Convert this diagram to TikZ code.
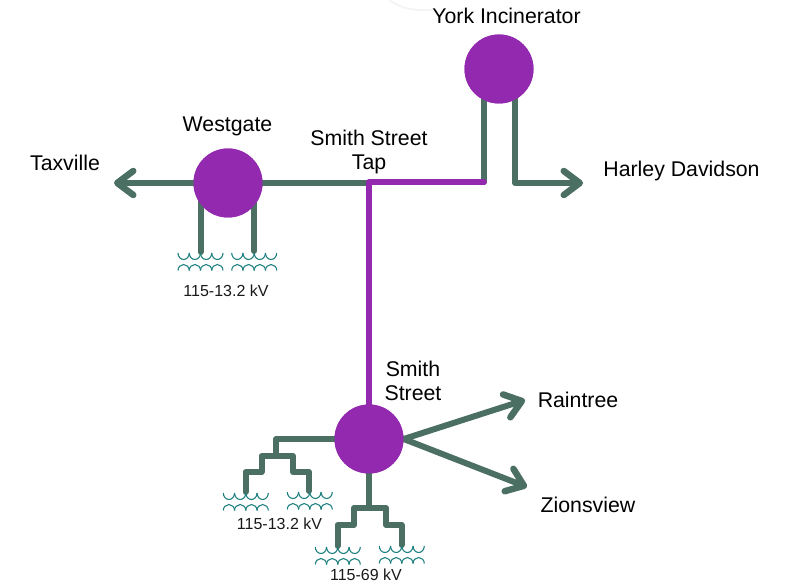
\documentclass[tikz,border=0pt]{standalone}
\usepackage{fontspec}
\setmainfont{Liberation Sans}
\usetikzlibrary{arrows.meta}
\definecolor{linegreen}{HTML}{4B6F62}
\definecolor{subpurple}{HTML}{9229AE}
\definecolor{coilteal}{HTML}{1F8080}
\definecolor{faintgrey}{HTML}{F4F4F4}
\tikzset{
  x=1pt,y=-1pt,
  sub/.style={circle,fill=subpurple,draw=none,minimum size=69pt,inner sep=0pt},
  feeder/.style={draw=linegreen,line width=6pt,line join=round,line cap=round},
  tapline/.style={draw=subpurple,line width=5.5pt,line join=round,line cap=round},
  outarrow/.style={feeder,-{Straight Barb[length=16pt,width=24pt,line width=6.5pt,round]}},
  biglabel/.style={font=\fontsize{21.3pt}{24.5pt}\selectfont,align=center,text=black,inner sep=0pt},
  smalllabel/.style={font=\fontsize{16pt}{19pt}\selectfont,text=black!90,inner sep=0pt},
  coil/.style={draw=coilteal,line width=1.1pt},
  pics/xfmr/.style={code={
    \foreach \k in {0,1,2,3}{
      \draw[coil] (\k*11.25,0) arc[start angle=180,end angle=360,x radius=5.625,y radius=-6.5];
      \draw[coil] (\k*11.25,17.5) arc[start angle=180,end angle=0,x radius=5.625,y radius=-6];
    }
  }}
}
\begin{document}
\begin{tikzpicture}
\useasboundingbox (0,0) rectangle (785,585);
\draw[faintgrey,line width=2pt,line cap=round] (390,0) .. controls (398,8) and (415,11) .. (432,10);
% nodes
\node[sub] (york) at (499,69) {};
\node[sub] (west) at (228,183) {};
\node[sub] (smith) at (369,439) {};
\coordinate (tap) at (369,182);
\coordinate (tapw) at (369,183);
\coordinate (yorkin) at (484,182);
\coordinate (taxville) at (114,183);
\coordinate (harley) at (583,183);
\coordinate (rain) at (525,400);
\coordinate (zion) at (527,487);
% connectors
\draw[outarrow] (west.center) -- (taxville);
\draw[feeder] (west.center) -- (tapw);
\draw[feeder] (yorkin) -- (484,80);
\draw[outarrow] (515,80) -- (515,183) -- (harley);
\draw[tapline] (smith.center) -- (tap) -- (yorkin);
\draw[outarrow] (smith.east) -- (rain);
\draw[outarrow] (smith.east) -- (zion);
\draw[feeder] (200.5,190) -- (200.5,252);
\draw[feeder] (254,190) -- (254,251);
\draw[feeder] (smith.center) -- (276,439) -- (276,456);
\draw[feeder] (245.5,492) -- (245.5,472) -- (261.5,472) -- (261.5,456) -- (293,456) -- (293,472) -- (309,472) -- (309,491);
\draw[feeder] (smith.center) -- (369,508);
\draw[feeder] (337.5,546) -- (337.5,525) -- (354,525) -- (354,508) -- (386,508) -- (386,525) -- (401.5,525) -- (401.5,545);
% circles over connectors
\fill[subpurple] (york) circle[radius=34.5];
\fill[subpurple] (west) circle[radius=34.5];
\fill[subpurple] (smith) circle[radius=34.5];
% transformers
\pic at (178,253) {xfmr};
\pic at (231.7,253) {xfmr};
\pic at (223.3,493) {xfmr};
\pic at (287.3,492) {xfmr};
\pic at (315.3,547) {xfmr};
\pic at (379.3,546) {xfmr};
% labels
\node[biglabel] (l1) at (506.5,16) {York Incinerator};
\node[biglabel] (l2) at (227.5,126) {Westgate};
\node[biglabel] (l3) at (65,163) {Taxville};
\node[biglabel] (l4) at (369,152) {Smith Street\\Tap};
\node[biglabel] (l5) at (681.5,171) {Harley Davidson};
\node[biglabel] (l6) at (413,381) {Smith\\Street};
\node[biglabel] (l7) at (578,400) {Raintree};
\node[biglabel] (l8) at (588,505) {Zionsview};
\node[smalllabel] (s1) at (226,291) {115-13.2 kV};
\node[smalllabel] (s2) at (279.5,524) {115-13.2 kV};
\node[smalllabel] (s3) at (366,575) {115-69 kV};
\end{tikzpicture}
\end{document}
